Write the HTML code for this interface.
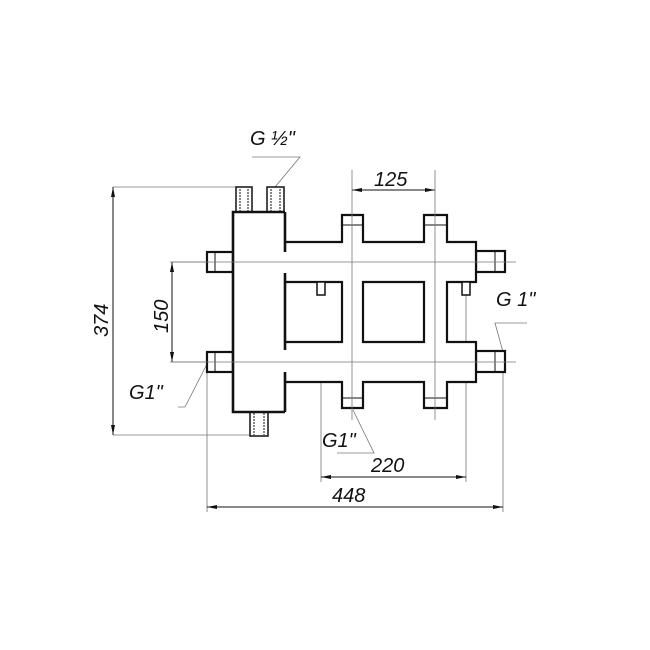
<!DOCTYPE html>
<html><head><style>body{margin:0;background:#fff}svg{display:block}text{font-family:"Liberation Sans",sans-serif;font-style:italic;font-size:20px;fill:#111}</style></head><body>
<svg width="650" height="650" viewBox="0 0 650 650" xmlns="http://www.w3.org/2000/svg">
<defs><marker id="a" viewBox="0 0 10 4" refX="10" refY="2" markerWidth="10" markerHeight="4" orient="auto-start-reverse" markerUnits="userSpaceOnUse"><path d="M0,0L10,2L0,4z" fill="#111"/></marker></defs>
<g stroke="#777" stroke-width="0.8" fill="none">
<line x1="113" y1="187" x2="236" y2="187"/><line x1="113" y1="435" x2="250" y2="435"/>
<line x1="172" y1="262" x2="207" y2="262"/><line x1="172" y1="362" x2="207" y2="362"/>
<line x1="321" y1="290" x2="321" y2="482"/><line x1="466" y1="290" x2="466" y2="482"/>
<line x1="207" y1="372" x2="207" y2="512"/><line x1="503" y1="372" x2="503" y2="512"/>
<polyline points="252,157 300,157 275,187"/>
<polyline points="178,407 185,407 207,364"/>
<polyline points="337,453 374,453 353,410"/>
<polyline points="527,323 495,323 503,352"/>
</g>
<g stroke="#111" stroke-width="1" fill="none">
<line x1="113" y1="187" x2="113" y2="435" marker-start="url(#a)" marker-end="url(#a)"/>
<line x1="172" y1="262" x2="172" y2="362" marker-start="url(#a)" marker-end="url(#a)"/>
<line x1="352" y1="190" x2="435" y2="190" marker-start="url(#a)" marker-end="url(#a)"/>
<line x1="321" y1="477" x2="466" y2="477" marker-start="url(#a)" marker-end="url(#a)"/>
<line x1="207" y1="507" x2="503" y2="507" marker-start="url(#a)" marker-end="url(#a)"/>
</g>
<g stroke="#111" stroke-width="2.2" fill="#fff">
<rect x="236" y="187" width="16" height="25" stroke-width="1.5"/><rect x="267" y="187" width="17" height="25" stroke-width="1.5"/>
<rect x="250" y="412" width="18" height="24" stroke-width="1.5"/>
<rect x="207" y="252" width="26" height="20"/><rect x="207" y="352" width="26" height="20"/>
<rect x="476" y="251" width="29" height="21"/><rect x="476" y="351" width="29" height="21"/>
<path d="M285,242H342V215H363V242H424V215H447V242H476V282H447V342H476V382H447V408H424V382H363V408H342V382H285" />
<path d="M285,282H342V342H285" fill="#fff"/>
<path d="M363,282H424V342H363Z"/>
<rect x="317" y="282" width="8" height="13" stroke-width="1.5"/><rect x="462" y="282" width="8" height="13" stroke-width="1.5"/>
<path d="M285,212H233V412H285" stroke-width="2.6"/>
</g>
<g stroke="#111" stroke-width="2.6" fill="none">
<line x1="285" y1="212" x2="285" y2="252"/><line x1="285" y1="273" x2="285" y2="350"/><line x1="285" y1="372" x2="285" y2="412"/>
</g>
<g stroke="#111" stroke-width="1" fill="none">
<line x1="342" y1="225" x2="363" y2="225"/><line x1="424" y1="225" x2="447" y2="225"/>
<line x1="342" y1="398" x2="363" y2="398"/><line x1="424" y1="398" x2="447" y2="398"/>
<line x1="215" y1="252" x2="215" y2="272"/><line x1="215" y1="352" x2="215" y2="372"/>
<line x1="495" y1="251" x2="495" y2="272"/><line x1="495" y1="351" x2="495" y2="372"/>
<line x1="240" y1="189" x2="240" y2="211" stroke-dasharray="2 1"/><line x1="248" y1="189" x2="248" y2="211" stroke-dasharray="2 1"/>
<line x1="271" y1="189" x2="271" y2="211" stroke-dasharray="2 1"/><line x1="280" y1="189" x2="280" y2="211" stroke-dasharray="2 1"/>
<line x1="254" y1="413" x2="254" y2="435" stroke-dasharray="2 1"/><line x1="264" y1="413" x2="264" y2="435" stroke-dasharray="2 1"/>
</g>
<g stroke="#777" stroke-width="0.8" fill="none">
<line x1="170" y1="262" x2="516" y2="262"/><line x1="170" y1="362" x2="516" y2="362"/>
<line x1="352" y1="170" x2="352" y2="420"/><line x1="435" y1="170" x2="435" y2="420"/>
</g>
<text x="250" y="145">G ½"</text>
<text x="374" y="186">125</text>
<text x="496" y="306">G 1"</text>
<text x="129" y="399">G1"</text>
<text x="322" y="447">G1"</text>
<text x="371" y="472">220</text>
<text x="332" y="502">448</text>
<text transform="translate(108,337) rotate(-90)">374</text>
<text transform="translate(168,333) rotate(-90)">150</text>
</svg>
</body></html>
